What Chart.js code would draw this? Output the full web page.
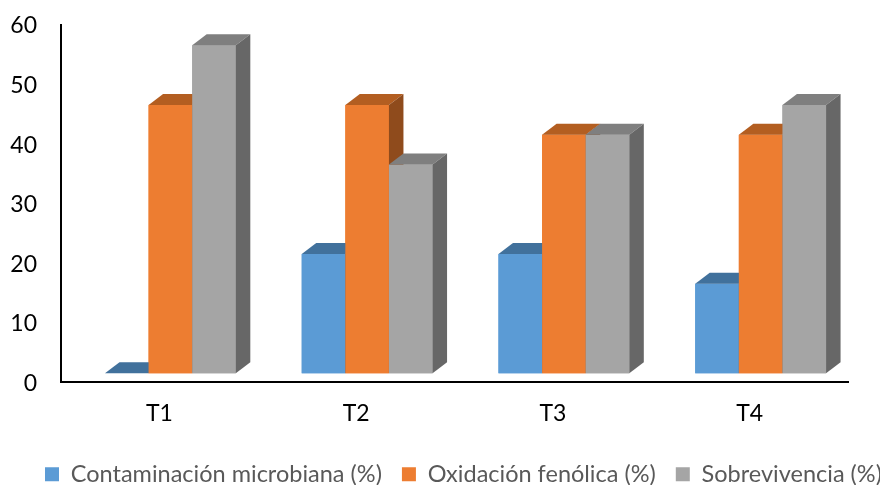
<!DOCTYPE html>
<html>
<head>
<meta charset="utf-8">
<script src="https://cdn.jsdelivr.net/npm/chart.js@4/dist/chart.umd.min.js"></script>
<style>
  html, body { margin: 0; padding: 0; background: #ffffff; }
  #chart { display: block; }
</style>
</head>
<body>
<canvas id="chart" width="880" height="485"></canvas>
<script>
// Treatments and measured percentages
const categories = ['T1', 'T2', 'T3', 'T4'];
const contaminacion = [0, 20, 20, 15];
const oxidacion = [45, 45, 40, 40];
const sobrevivencia = [55, 35, 40, 45];
const seriesNames = ['Contaminación microbiana (%)', 'Oxidación fenólica (%)', 'Sobrevivencia (%)'];
const yTickValues = [0, 10, 20, 30, 40, 50, 60];

// Colours: front face, top face, side face
const frontColors = ['#5B9BD5', '#ED7D31', '#A5A5A5'];
const topColors = ['#41719C', '#B35E21', '#7F7F7F'];
const sideColors = ['#2F5A82', '#8F4B1C', '#676767'];

// Depth of the extruded bars (pixels)
const depthX = 14.5;
const depthY = 11;

// Bars sit slightly right of the category centres and above the floor line,
// so they use their own (hidden) scales.
const barShift = 0.056;
const barScaleMin = -1.46;
const barScaleMax = 58.49;

const seriesValues = [contaminacion, oxidacion, sobrevivencia];

// Draws the top and side faces of every bar, cluster by cluster and
// left to right, so each front face covers the side of its left neighbour.
const bar3d = {
  id: 'bar3d',
  afterLayout(chart) {
    // let the value labels use the space left of the axis box
    chart.scales.y.left = 0;
  },
  afterDatasetsDraw(chart) {
    const ctx = chart.ctx;
    const metas = chart.data.datasets.map((_, i) => chart.getDatasetMeta(i));
    const count = chart.data.datasets[0].data.length;
    ctx.save();
    for (let i = 0; i < count; i++) {
      metas.forEach((meta, d) => {
        const bar = meta.data[i];
        if (!bar) return;
        const p = bar.getProps(['x', 'y', 'base', 'width'], true);
        const l = p.x - p.width / 2;
        const r = p.x + p.width / 2;
        bar.draw(ctx);
        ctx.fillStyle = topColors[d];
        ctx.beginPath();
        ctx.moveTo(l, p.y);
        ctx.lineTo(l + depthX, p.y - depthY);
        ctx.lineTo(r + depthX, p.y - depthY);
        ctx.lineTo(r, p.y);
        ctx.closePath();
        ctx.fill();
        ctx.fillStyle = sideColors[d];
        ctx.beginPath();
        ctx.moveTo(r, p.y);
        ctx.lineTo(r + depthX, p.y - depthY);
        ctx.lineTo(r + depthX, p.base - depthY);
        ctx.lineTo(r, p.base);
        ctx.closePath();
        ctx.fill();
      });
    }
    ctx.restore();
  }
};

function build() {
  Chart.defaults.font.family = 'Lato, "Open Sans", sans-serif';
  new Chart(document.getElementById('chart'), {
    type: 'bar',
    data: {
      labels: categories,
      datasets: seriesValues.map((vals, d) => ({
        label: seriesNames[d],
        data: vals.map((v, i) => ({ x: i, y: v })),
        backgroundColor: frontColors[d],
        borderWidth: 0,
        xAxisID: 'xb',
        yAxisID: 'yb',
        categoryPercentage: 0.665,
        barPercentage: 1.0
      }))
    },
    plugins: [bar3d],
    options: {
      responsive: false,
      animation: false,
      devicePixelRatio: 1,
      layout: { padding: { left: 25, right: -40, top: 24.5, bottom: -11 } },
      plugins: {
        legend: {
          position: 'bottom',
          align: 'start',
          labels: {
            boxWidth: 14,
            boxHeight: 14,
            padding: 20,
            color: '#595959',
            font: { size: 23.5 }
          }
        },
        tooltip: { enabled: false }
      },
      scales: {
        x: {
          type: 'category',
          position: 'bottom',
          offset: true,
          grid: { display: false, drawTicks: false },
          border: { display: true, color: '#000000', width: 2 },
          ticks: { color: '#000000', font: { size: 23 }, padding: 18 },
          afterFit(s) { s.height = 60.5; }
        },
        xb: {
          type: 'linear',
          display: false,
          offset: false,
          min: -0.5 - barShift,
          max: categories.length - 0.5 - barShift,
          afterBuildTicks(s) { s.ticks = categories.map((_, i) => ({ value: i })); }
        },
        y: {
          position: 'left',
          min: yTickValues[0],
          max: yTickValues[yTickValues.length - 1],
          afterBuildTicks(s) { s.ticks = yTickValues.map(v => ({ value: v })); },
          grid: { display: false, drawTicks: false },
          border: { display: true, color: '#000000', width: 2 },
          ticks: { color: '#000000', font: { size: 23 }, padding: 24, labelOffset: 1.5 },
          afterFit(s) {
            s.width = 36;
            s.paddingTop = 0;
            s.paddingBottom = 0;
          }
        },
        yb: {
          position: 'right',
          min: barScaleMin,
          max: barScaleMax,
          grid: { display: false, drawTicks: false },
          border: { display: false },
          ticks: { display: false },
          afterFit(s) { s.width = 72; }
        }
      }
    }
  });
}

if (document.fonts && document.fonts.load) {
  Promise.all([document.fonts.load('23px Lato')]).then(build, build);
} else {
  build();
}
</script>
</body>
</html>
